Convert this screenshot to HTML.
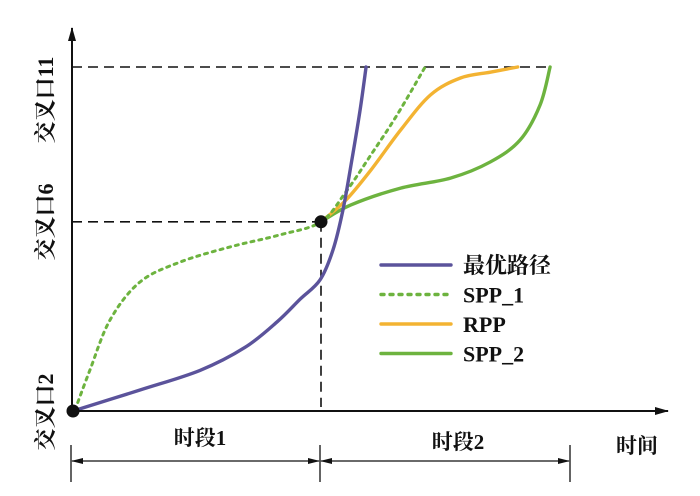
<!DOCTYPE html>
<html><head><meta charset="utf-8">
<style>
html,body{margin:0;padding:0;background:#fff;}
svg{display:block;}
text{font-family:"Liberation Serif","Noto Serif CJK SC",serif;fill:#111;font-weight:bold;}
</style></head>
<body>
<svg id="chart" width="700" height="496" viewBox="0 0 700 496">
<defs>
<marker id="ah" markerWidth="14" markerHeight="10" refX="13" refY="5" orient="auto" markerUnits="userSpaceOnUse">
<path d="M0,1 L14,5 L0,9 Z" fill="#111"/></marker>
<marker id="sa" markerWidth="12" markerHeight="8" refX="11" refY="4" orient="auto-start-reverse" markerUnits="userSpaceOnUse">
<path d="M0,1 L12,4 L0,7 Z" fill="#111"/></marker>
</defs>
<g id="guides"></g>
<g id="series"></g>
<line x1="72" y1="411" x2="72" y2="28" stroke="#111" stroke-width="2" marker-end="url(#ah)"/>
<line x1="72" y1="411" x2="668" y2="411" stroke="#111" stroke-width="2" marker-end="url(#ah)"/>
<text transform="translate(53,100) rotate(-90)" text-anchor="middle" font-size="22">交叉口11</text>
<text transform="translate(53,222) rotate(-90)" text-anchor="middle" font-size="22">交叉口6</text>
<text transform="translate(53,412) rotate(-90)" text-anchor="middle" font-size="22">交叉口2</text>
<text x="200" y="445" text-anchor="middle" font-size="21">时段1</text>
<text x="458" y="449" text-anchor="middle" font-size="21">时段2</text>
<text x="637" y="453" text-anchor="middle" font-size="21">时间</text>
<g stroke="#111" stroke-width="1.3">
<line x1="71" y1="445" x2="71" y2="482"/><line x1="320" y1="445" x2="320" y2="482"/><line x1="570" y1="445" x2="570" y2="482"/>
<line x1="72" y1="461" x2="319" y2="461" marker-start="url(#sa)" marker-end="url(#sa)"/>
<line x1="321" y1="461" x2="569" y2="461" marker-start="url(#sa)" marker-end="url(#sa)"/>
</g>
<g id="legend"></g>
</svg>
<script>
const xDomain=[0,200], yDomain=[0,100];
const seriesNames=["最优路径","SPP_1","RPP","SPP_2"];
const optimalX=[0.4,27.3,51.4,69.5,82.5,91.6,99.6,104.8,108.8,112.4,115.7,118.1];
const optimalY=[0,6.1,11.8,18.5,26,32.5,38.1,46.8,58.4,73,87.5,100];
const spp1X=[1.2,7.2,15.3,27.3,43.4,63.5,83.5,100,110,120,130.5,141.8];
const spp1Y=[0.3,11.9,26.5,37.5,43.3,47.7,51.2,55,63.7,74.4,86,100];
const rppX=[100,110,120,132,144,156,168,179];
const rppY=[55,61.3,70,81.7,91.9,96.8,98.5,100];
const spp2X=[100,112,132,152,168,180,188,192];
const spp2Y=[55,59.9,64.8,67.7,72.4,78.8,89,100];
const markX=[0.4,100], markY=[0,55];
const refLevelsY=[100,55];
const colors=["#5b539b","#6db33f","#f3b332","#6db33f"];
function sx(v){return 72+(v-xDomain[0])/(xDomain[1]-xDomain[0])*498;}
function sy(v){return 411-(v-yDomain[0])/(yDomain[1]-yDomain[0])*344;}
const NS="http://www.w3.org/2000/svg";
function mk(t,a,p){const e=document.createElementNS(NS,t);for(const k in a)e.setAttribute(k,a[k]);p.appendChild(e);return e;}
function pathD(xs,ys){const p=xs.map((x,i)=>[sx(x),sy(ys[i])]);let d="M"+p[0][0]+","+p[0][1];
for(let i=0;i<p.length-1;i++){const p0=p[i-1]||p[i],p1=p[i],p2=p[i+1],p3=p[i+2]||p2;
d+=" C"+(p1[0]+(p2[0]-p0[0])/6)+","+(p1[1]+(p2[1]-p0[1])/6)+" "+(p2[0]-(p3[0]-p1[0])/6)+","+(p2[1]-(p3[1]-p1[1])/6)+" "+p2[0]+","+p2[1];}return d;}
const guides=document.getElementById('guides');
const topEnd=Math.max(spp2X[spp2X.length-1],rppX[rppX.length-1]);
let g1=mk('line',{x1:sx(0),y1:sy(refLevelsY[0]),x2:sx(topEnd),y2:sy(refLevelsY[0]),stroke:"#111","stroke-width":1.6,"stroke-dasharray":"10,6"},guides);


let g2=mk('line',{x1:sx(0),y1:sy(refLevelsY[1]),x2:sx(markX[1]),y2:sy(refLevelsY[1]),stroke:"#111","stroke-width":1.6,"stroke-dasharray":"10,6"},guides);


let g3=mk('line',{x1:sx(markX[1]),y1:sy(markY[1]),x2:sx(markX[1]),y2:sy(0)-4,stroke:"#111","stroke-width":1.6,"stroke-dasharray":"10,6"},guides);


const sg=document.getElementById('series');
const data=[[optimalX,optimalY],[spp1X,spp1Y],[rppX,rppY],[spp2X,spp2Y]];
const order=[3,2,1,0];
const ids=["series-optimal","series-spp-1","series-rpp","series-spp-2"];
order.forEach(i=>{const a={d:pathD(data[i][0],data[i][1]),fill:"none",stroke:colors[i],"stroke-width":3.4,"stroke-linecap":"round"};
if(i===1){a["stroke-dasharray"]="3,5";a["stroke-width"]=3;}
const e=mk('path',a,sg);

});
markX.forEach((x,i)=>{const c=mk('circle',{cx:sx(x),cy:sy(markY[i]),r:6.5,fill:"#111"},sg);

});
const lg=document.getElementById('legend');
seriesNames.forEach((n,i)=>{const y=265+i*29.5;
const l=mk('line',{x1:381,y1:y,x2:451,y2:y,stroke:colors[i],"stroke-width":3.4,"stroke-linecap":"round"},lg);
if(i===1)l.setAttribute('stroke-dasharray','3,6');


const t=mk('text',{x:463,y:y+8,"font-size":22},lg);t.textContent=n;

});
</script>
</body></html>
